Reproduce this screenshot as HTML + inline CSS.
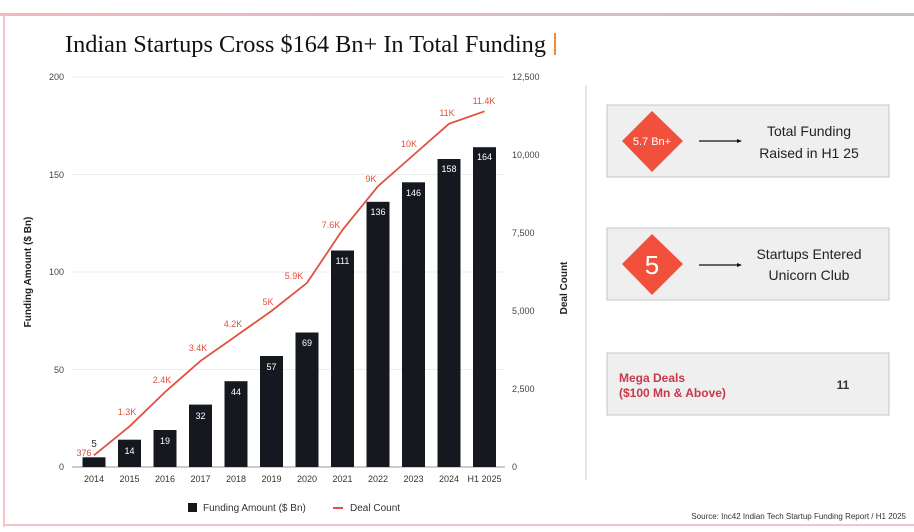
<!DOCTYPE html>
<html><head><meta charset="utf-8"><style>
body{margin:0;width:914px;height:527px;background:#fff;overflow:hidden;font-family:"Liberation Sans",sans-serif;}
</style></head><body>
<svg width="914" height="527" xmlns="http://www.w3.org/2000/svg" font-family="Liberation Sans, sans-serif">
<defs><linearGradient id="tb" x1="0" x2="1"><stop offset="0" stop-color="#f4b8be"/><stop offset="1" stop-color="#c9bfc1"/></linearGradient></defs>
<rect x="0" y="13" width="914" height="3" fill="url(#tb)"/>
<rect x="3" y="15" width="2" height="512" fill="#f6c4c8"/>
<rect x="3" y="524" width="911" height="2" fill="#f6c4c8"/>
<text x="65" y="52" font-family="Liberation Serif, serif" font-size="24" fill="#111" textLength="481" lengthAdjust="spacingAndGlyphs">Indian Startups Cross $164 Bn+ In Total Funding</text>
<rect x="554" y="33" width="2" height="22" fill="#f08a3c"/>
<g stroke="#ececec" stroke-width="1">
<line x1="72" y1="77" x2="505" y2="77"/><line x1="72" y1="174.5" x2="505" y2="174.5"/><line x1="72" y1="272" x2="505" y2="272"/><line x1="72" y1="369.5" x2="505" y2="369.5"/>
</g>
<line x1="72" y1="467" x2="505" y2="467" stroke="#999"/>
<line x1="586" y1="85" x2="586" y2="480" stroke="#ccc"/>
<g font-size="9" fill="#444" text-anchor="end">
<text x="64" y="80">200</text><text x="64" y="178">150</text><text x="64" y="275">100</text><text x="64" y="373">50</text><text x="64" y="470">0</text>
</g>
<g font-size="9" fill="#444">
<text x="512" y="80">12,500</text><text x="512" y="158">10,000</text><text x="512" y="236">7,500</text><text x="512" y="314">5,000</text><text x="512" y="392">2,500</text><text x="512" y="470">0</text>
</g>
<text transform="translate(31,272) rotate(-90)" font-size="10" font-weight="bold" fill="#222" text-anchor="middle">Funding Amount ($ Bn)</text>
<text transform="translate(567,288) rotate(-90)" font-size="10" font-weight="bold" fill="#222" text-anchor="middle">Deal Count</text>
<g fill="#161820">
<rect x="82.5" y="457.3" width="23" height="9.7"/>
<rect x="118" y="439.7" width="23" height="27.3"/>
<rect x="153.5" y="430" width="23" height="37"/>
<rect x="189" y="404.6" width="23" height="62.4"/>
<rect x="224.5" y="381.2" width="23" height="85.8"/>
<rect x="260" y="356" width="23" height="111"/>
<rect x="295.5" y="332.5" width="23" height="134.5"/>
<rect x="331" y="250.5" width="23" height="216.5"/>
<rect x="366.5" y="201.8" width="23" height="265.2"/>
<rect x="402" y="182.3" width="23" height="284.7"/>
<rect x="437.5" y="159" width="23" height="308"/>
<rect x="473" y="147.2" width="23" height="319.8"/>
</g>
<g font-size="9" fill="#fff" text-anchor="middle">
<text x="129.5" y="454">14</text><text x="165" y="444">19</text><text x="200.5" y="419">32</text><text x="236" y="395">44</text><text x="271.5" y="370">57</text><text x="307" y="346">69</text><text x="342.5" y="264">111</text><text x="378" y="215">136</text><text x="413.5" y="196">146</text><text x="449" y="172">158</text><text x="484.5" y="160">164</text>
</g>
<text x="94" y="447" font-size="10" fill="#333" text-anchor="middle">5</text>
<polyline fill="none" stroke="#e0513f" stroke-width="1.8" points="94,455.3 129.5,426.4 165,392.1 200.5,360.9 236,336 271.5,311 307,282.9 342.5,229.9 378,186.2 413.5,155 449,123.8 484.5,111.3"/>
<g font-size="9" fill="#e0513f" text-anchor="middle">
<text x="84" y="456">376</text><text x="127" y="415">1.3K</text><text x="162" y="383">2.4K</text><text x="198" y="351">3.4K</text><text x="233" y="327">4.2K</text><text x="268" y="305">5K</text><text x="294" y="279">5.9K</text><text x="331" y="228">7.6K</text><text x="371" y="182">9K</text><text x="409" y="147">10K</text><text x="447" y="116">11K</text><text x="484" y="104">11.4K</text>
</g>
<g font-size="9" fill="#333" text-anchor="middle">
<text x="94" y="482">2014</text><text x="129.5" y="482">2015</text><text x="165" y="482">2016</text><text x="200.5" y="482">2017</text><text x="236" y="482">2018</text><text x="271.5" y="482">2019</text><text x="307" y="482">2020</text><text x="342.5" y="482">2021</text><text x="378" y="482">2022</text><text x="413.5" y="482">2023</text><text x="449" y="482">2024</text><text x="484.5" y="482">H1 2025</text>
</g>
<rect x="188" y="503" width="9" height="9" fill="#161820"/>
<text x="203" y="511" font-size="10" fill="#333">Funding Amount ($ Bn)</text>
<rect x="333" y="507" width="10" height="2" fill="#e0513f"/>
<text x="350" y="511" font-size="10" fill="#333">Deal Count</text>
<text x="906" y="519" font-size="8" fill="#333" text-anchor="end">Source: Inc42 Indian Tech Startup Funding Report / H1 2025</text>
<g stroke="#c6c6c6" fill="#efefef">
<rect x="607" y="105" width="282" height="72"/>
<rect x="607" y="228" width="282" height="72"/>
<rect x="607" y="353" width="282" height="62"/>
</g>
<polygon points="652,111 683,141 652,172 622,141" fill="#f0503c"/>
<polygon points="652,234 683,264 652,295 622,264" fill="#f0503c"/>
<text x="652" y="145" font-size="11" fill="#fff" text-anchor="middle">5.7 Bn+</text>
<text x="652" y="274" font-size="26" fill="#fff" text-anchor="middle">5</text>
<g stroke="#111" stroke-width="1.2"><line x1="699" y1="141" x2="740" y2="141"/><line x1="699" y1="265" x2="740" y2="265"/></g>
<polygon points="742,141 737,139 737,143" fill="#111"/><polygon points="742,265 737,263 737,267" fill="#111"/>
<g font-size="14" fill="#222" text-anchor="middle">
<text x="809" y="136">Total Funding</text><text x="809" y="158">Raised in H1 25</text>
<text x="809" y="259">Startups Entered</text><text x="809" y="280">Unicorn Club</text>
</g>
<text x="619" y="382" font-size="12" font-weight="bold" fill="#c8384a">Mega Deals</text>
<text x="619" y="397" font-size="12" font-weight="bold" fill="#c8384a">($100 Mn &amp; Above)</text>
<text x="843" y="389" font-size="12" font-weight="bold" fill="#333" text-anchor="middle">11</text>
</svg>
</body></html>
